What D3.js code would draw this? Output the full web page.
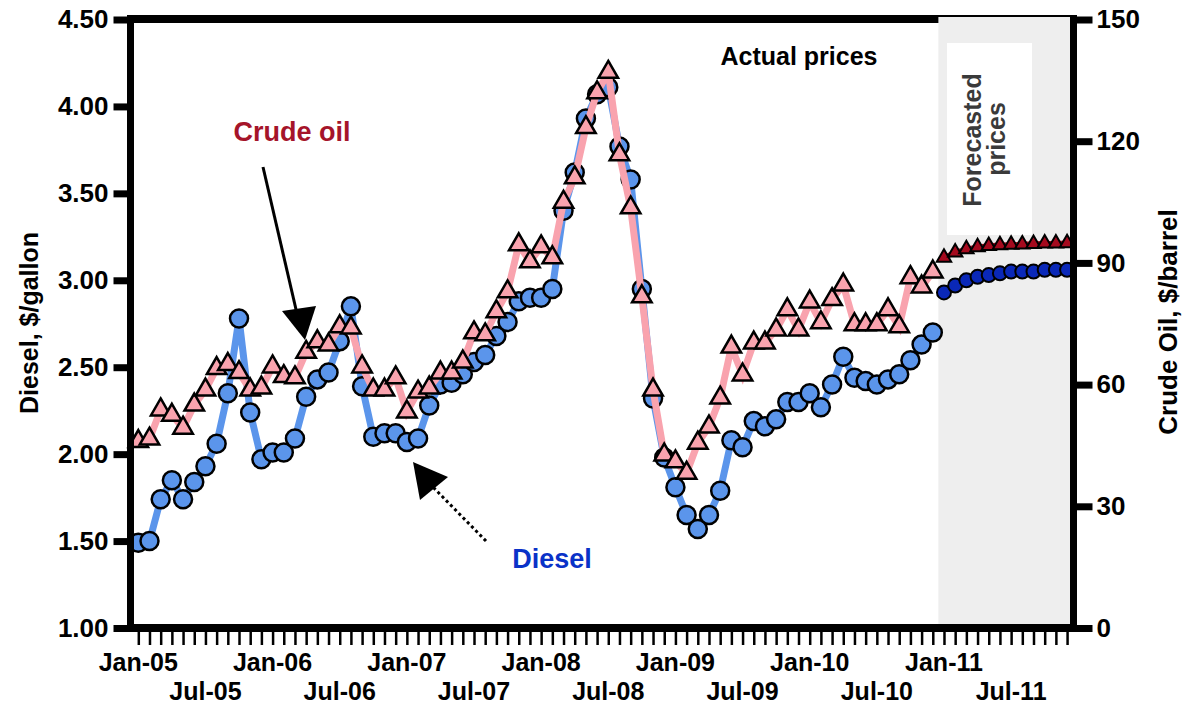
<!DOCTYPE html>
<html><head><meta charset="utf-8">
<script src="https://cdn.jsdelivr.net/npm/d3@7"></script>
<style>
body{margin:0;background:#fff}
text{font-family:Arial,"Liberation Sans",sans-serif;font-weight:bold}
</style>
</head><body><svg id="c" width="1184" height="708"></svg>
<script>
// ---- data ----
const monthNames = ["Jan","Feb","Mar","Apr","May","Jun","Jul","Aug","Sep","Oct","Nov","Dec"];
const years = ["05","06","07","08","09","10","11"];
const months = years.flatMap(y => monthNames.map(m => m + "-" + y));
const actualMonths = months.slice(0, 72);
const forecastMonths = months.slice(72);

const dieselActual = [1.49,1.50,1.74,1.85,1.74,1.84,1.93,2.06,2.35,2.78,2.24,1.97,
  2.01,2.01,2.09,2.33,2.43,2.47,2.65,2.85,2.39,2.10,2.12,2.12,
  2.07,2.09,2.28,2.40,2.41,2.46,2.53,2.57,2.68,2.76,2.88,2.90,
  2.90,2.95,3.40,3.62,3.93,4.07,4.11,3.77,3.58,2.95,2.32,1.98,
  1.81,1.65,1.57,1.65,1.79,2.08,2.04,2.19,2.16,2.20,2.30,2.30,
  2.35,2.27,2.40,2.56,2.44,2.42,2.40,2.43,2.46,2.54,2.63,2.70];
const crudeActual = [46.0,46.6,53.8,52.5,49.3,55.0,58.7,64.0,65.0,63.0,58.7,59.2,
  64.4,62.0,61.7,68.0,70.6,69.8,74.3,74.0,64.4,58.7,58.7,61.7,
  53.3,58.2,59.2,62.9,62.9,65.6,72.8,72.3,78.0,82.9,94.5,90.3,
  94.0,91.3,105.0,111.0,123.4,132.0,137.0,116.7,103.6,81.7,58.7,42.7,
  41.0,38.2,45.6,49.6,56.7,69.3,62.4,70.3,70.3,73.5,78.5,73.5,
  80.4,75.3,81.0,84.6,74.8,74.8,74.8,78.5,74.3,86.4,84.1,87.8];
const dieselForecast = [2.93,2.97,3.00,3.02,3.03,3.04,3.05,3.05,3.05,3.06,3.06,3.06];
const crudeForecast = [91.3,92.6,93.4,93.9,94.2,94.4,94.5,94.6,94.7,94.8,94.8,94.9];

const leftTicks = [1.0,1.5,2.0,2.5,3.0,3.5,4.0,4.5];
const rightTicks = [0,30,60,90,120,150];
const janTicks = ["Jan-05","Jan-06","Jan-07","Jan-08","Jan-09","Jan-10","Jan-11"];
const julTicks = ["Jul-05","Jul-06","Jul-07","Jul-08","Jul-09","Jul-10","Jul-11"];

// ---- scales ----
const svg = d3.select("#c");
const x = d3.scalePoint().domain(months).range([138.3, 138.3 + 83 * 11.19]);
const yL = d3.scaleLinear().domain([1, 4.5]).range([628, 19.5]);
const yR = d3.scaleLinear().domain([0, 150]).range([628, 19.5]);
const step = x.step();

const AXL = 130.5, AXR = 1073.5, AXB = 628;

// top frame line
svg.append("line").attr("x1", AXL - 3.5).attr("x2", AXR + 3.5).attr("y1", 19).attr("y2", 19)
  .attr("stroke", "#000").attr("stroke-width", 8);

// forecast shading
const fx0 = x("Dec-10") + step / 2;
svg.append("rect").attr("x", fx0).attr("y", 17).attr("width", AXR - fx0).attr("height", AXB - 17)
  .attr("fill", "#eeeeee");
svg.append("rect").attr("x", 947).attr("y", 43).attr("width", 85).attr("height", 192).attr("fill", "#fff");
svg.append("text").attr("transform", "translate(981,140) rotate(-90)").attr("text-anchor", "middle")
  .attr("font-size", 25).attr("fill", "#3a3a3a").text("Forecasted");
svg.append("text").attr("transform", "translate(1005,139) rotate(-90)").attr("text-anchor", "middle")
  .attr("font-size", 25).attr("fill", "#3a3a3a").text("prices");

// ---- series ----
const BLUE = "#5b95eb", PINK = "#f9a3ae", DBLUE = "#0a28b8", DRED = "#a50a1e";
const lineL = d3.line().x(d => x(d[0])).y(d => yL(d[1]));
const lineR = d3.line().x(d => x(d[0])).y(d => yR(d[1]));
const dA = actualMonths.map((m, i) => [m, dieselActual[i]]);
const cA = actualMonths.map((m, i) => [m, crudeActual[i]]);
const dF = forecastMonths.map((m, i) => [m, dieselForecast[i]]);
const cF = forecastMonths.map((m, i) => [m, crudeForecast[i]]);

svg.append("path").datum(dA).attr("d", lineL).attr("fill", "none").attr("stroke", BLUE).attr("stroke-width", 7);
svg.selectAll(".dc").data(dA).join("circle").attr("cx", d => x(d[0])).attr("cy", d => yL(d[1]))
  .attr("r", 9).attr("fill", BLUE).attr("stroke", "#000").attr("stroke-width", 2.5);

svg.append("path").datum(cA).attr("d", lineR).attr("fill", "none").attr("stroke", PINK).attr("stroke-width", 7);
const tri = d3.symbol(d3.symbolTriangle, 165);
svg.selectAll(".ct").data(cA).join("path").attr("d", tri)
  .attr("transform", d => `translate(${x(d[0])},${yR(d[1])})`)
  .attr("fill", PINK).attr("stroke", "#000").attr("stroke-width", 2.5);

// forecast
svg.append("path").datum(dF).attr("d", lineL).attr("fill", "none").attr("stroke", DBLUE).attr("stroke-width", 6);
svg.selectAll(".fd").data(dF).join("circle").attr("cx", d => x(d[0])).attr("cy", d => yL(d[1]))
  .attr("r", 7).attr("fill", DBLUE).attr("stroke", "#000").attr("stroke-width", 2);
svg.append("path").datum(cF).attr("d", lineR).attr("fill", "none").attr("stroke", DRED).attr("stroke-width", 5);
const triS = d3.symbol(d3.symbolTriangle, 90);
svg.selectAll(".fc").data(cF).join("path").attr("d", triS)
  .attr("transform", d => `translate(${x(d[0])},${yR(d[1])})`)
  .attr("fill", DRED).attr("stroke", "#000").attr("stroke-width", 2);

// ---- axes ----
const gL = svg.append("g").attr("transform", `translate(${AXL},0)`)
  .call(d3.axisLeft(yL).tickValues(leftTicks).tickFormat(d3.format(".2f")).tickSize(17).tickSizeOuter(0).tickPadding(5));
gL.select(".domain").remove();
gL.selectAll(".tick line").attr("stroke-width", 7);
gL.selectAll(".tick text").attr("font-size", 26).attr("font-family", "Arial, 'Liberation Sans', sans-serif").attr("fill", "#000");

const gR = svg.append("g").attr("transform", `translate(${AXR},0)`)
  .call(d3.axisRight(yR).tickValues(rightTicks).tickSize(19).tickSizeOuter(0).tickPadding(4));
gR.select(".domain").remove();
gR.selectAll(".tick line").attr("stroke-width", 7);
gR.selectAll(".tick text").attr("font-size", 26).attr("font-family", "Arial, 'Liberation Sans', sans-serif").attr("fill", "#000");

const gB = svg.append("g").attr("transform", `translate(0,${AXB + 4})`)
  .call(d3.axisBottom(x).tickValues(months).tickFormat("").tickSize(13).tickSizeOuter(0));
gB.select(".domain").remove();
gB.selectAll(".tick line").attr("stroke-width", 2.5);

// axis lines
svg.append("line").attr("x1", AXL).attr("x2", AXL).attr("y1", 15).attr("y2", 632).attr("stroke", "#000").attr("stroke-width", 7);
svg.append("line").attr("x1", AXR).attr("x2", AXR).attr("y1", 15).attr("y2", 632).attr("stroke", "#000").attr("stroke-width", 7);
svg.append("line").attr("x1", AXL - 3.5).attr("x2", AXR + 3.5).attr("y1", AXB).attr("y2", AXB).attr("stroke", "#000").attr("stroke-width", 8);

// x labels
svg.selectAll(".jl").data(janTicks).join("text").attr("x", d => x(d)).attr("y", 671)
  .attr("text-anchor", "middle").attr("font-size", 25).text(d => d);
svg.selectAll(".ul").data(julTicks).join("text").attr("x", d => x(d)).attr("y", 700)
  .attr("text-anchor", "middle").attr("font-size", 25).text(d => d);

// axis titles
svg.append("text").attr("transform", "translate(38,323) rotate(-90)").attr("text-anchor", "middle")
  .attr("font-size", 25).text("Diesel, $/gallon");
svg.append("text").attr("transform", "translate(1177,322) rotate(-90)").attr("text-anchor", "middle")
  .attr("font-size", 26).text("Crude Oil, $/barrel");

// annotations
svg.append("text").attr("x", 799).attr("y", 65).attr("text-anchor", "middle").attr("font-size", 25).text("Actual prices");
svg.append("text").attr("x", 292).attr("y", 141).attr("text-anchor", "middle").attr("font-size", 27)
  .attr("fill", "#a5142a").text("Crude oil");
svg.append("text").attr("x", 552).attr("y", 568).attr("text-anchor", "middle").attr("font-size", 27)
  .attr("fill", "#0a32c8").text("Diesel");

svg.append("line").attr("x1", 263).attr("y1", 167).attr("x2", 298).attr("y2", 318)
  .attr("stroke", "#000").attr("stroke-width", 3);
svg.append("polygon").attr("points", "282,311 316,306 305,340").attr("fill", "#000");
svg.append("line").attr("x1", 486).attr("y1", 541).attr("x2", 428).attr("y2", 482)
  .attr("stroke", "#000").attr("stroke-width", 3).attr("stroke-dasharray", "3,3");
svg.append("polygon").attr("points", "413,462 448,477 420,500").attr("fill", "#000");
</script></body></html>
